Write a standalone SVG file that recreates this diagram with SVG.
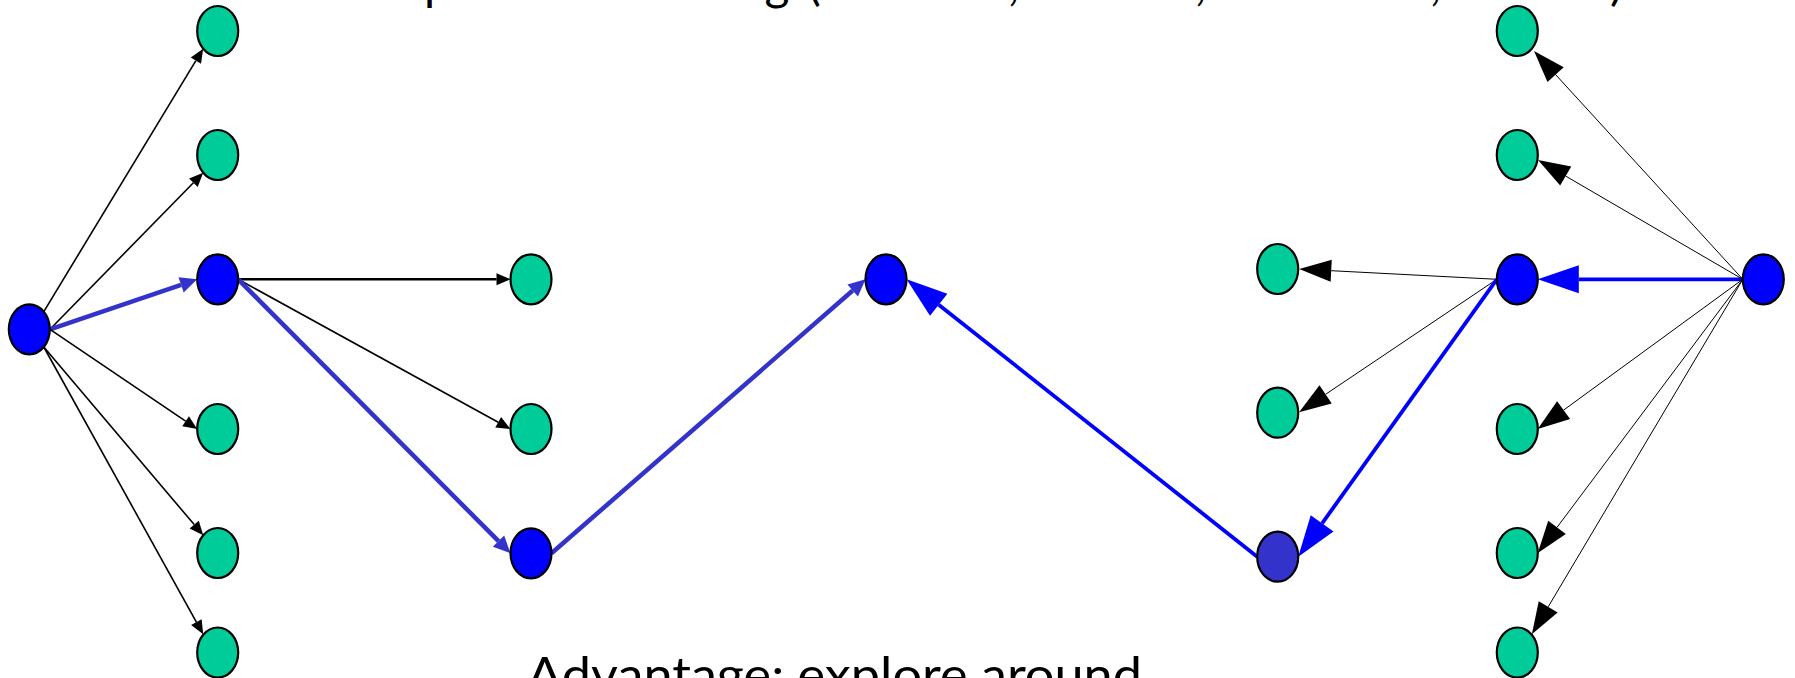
<svg xmlns="http://www.w3.org/2000/svg" width="1795" height="678" viewBox="0 0 1795 678">
<style>
.txt{font-family:Lato,"Noto Sans","Liberation Sans",sans-serif;font-size:48px;fill:#000}
.g{fill:#00CC99;stroke:#000;stroke-width:2.2}
.b{fill:#0000FF;stroke:#000;stroke-width:2.2}
.d{fill:#3333CC;stroke:#000;stroke-width:2.2}
.ks{stroke:#000;stroke-width:1.6;fill:none;marker-end:url(#mKS)}
.kl{stroke:#000;stroke-width:1;fill:none;marker-end:url(#mKL)}
.bs{stroke:#3333CC;stroke-width:4.5;fill:none;marker-end:url(#mBS)}
.bl{stroke:#0000FF;stroke-width:3.8;fill:none;marker-end:url(#mBL)}
</style>
<defs>
<marker id="mKS" markerUnits="userSpaceOnUse" markerWidth="16" markerHeight="14" refX="0" refY="6" orient="auto" overflow="visible"><path d="M0,0 L14,6 L0,12 Z" fill="#000"/></marker>
<marker id="mBS" markerUnits="userSpaceOnUse" markerWidth="18" markerHeight="18" refX="0" refY="8" orient="auto" overflow="visible"><path d="M0,0 L17,8 L0,16 Z" fill="#3333CC"/></marker>
<marker id="mKL" markerUnits="userSpaceOnUse" markerWidth="34" markerHeight="24" refX="0" refY="11" orient="auto" overflow="visible"><path d="M0,0 L32,11 L0,22 Z" fill="#000"/></marker>
<marker id="mBL" markerUnits="userSpaceOnUse" markerWidth="42" markerHeight="30" refX="0" refY="14" orient="auto" overflow="visible"><path d="M0,0 L41,14 L0,28 Z" fill="#0000FF"/></marker>
</defs>
<text class="txt" y="0"><tspan x="150">Both sides</tspan><tspan x="375">expand</tspan><tspan x="590">searching</tspan><tspan x="808">(</tspan><tspan x="828">forward</tspan><tspan x="1008">,</tspan><tspan x="1035">reverse</tspan><tspan x="1195">,</tspan><tspan x="1250">frontier</tspan><tspan x="1430">,</tspan><tspan x="1455">middle</tspan><tspan x="1610">)</tspan></text>
<g id="connectors">
<line class="ks" x1="43.8" y1="311.6" x2="195.9" y2="60.7"/>
<line class="ks" x1="50" y1="329.3" x2="193.4" y2="182.7"/>
<line class="bs" x1="50" y1="329.3" x2="181.1" y2="284.8"/>
<line class="ks" x1="50" y1="329.3" x2="185.6" y2="421.2"/>
<line class="ks" x1="43.8" y1="347" x2="194.2" y2="524.6"/>
<line class="ks" x1="43.8" y1="347" x2="196.4" y2="622.1"/>
<line class="ks" x1="238.2" y1="279.3" x2="496.5" y2="279.3" style="stroke-width:2.5"/>
<line class="ks" x1="238.2" y1="279.3" x2="498.2" y2="422.3"/>
<line class="bs" x1="238.2" y1="279.3" x2="498.5" y2="541.2"/>
<line class="bs" x1="551.5" y1="553.3" x2="852.7" y2="290.5"/>
<line class="bl" x1="1742.8" y1="279.3" x2="1578.8" y2="279.3"/>
<line class="kl" x1="1742.8" y1="279.3" x2="1555.6" y2="74.6"/>
<line class="kl" x1="1742.8" y1="279.3" x2="1565.7" y2="176.1"/>
<line class="kl" x1="1742.8" y1="279.3" x2="1563.6" y2="410.1"/>
<line class="kl" x1="1742.8" y1="279.3" x2="1557" y2="527.4"/>
<line class="kl" x1="1742.8" y1="279.3" x2="1548.2" y2="606.8"/>
<line class="kl" x1="1496.8" y1="279.3" x2="1331.2" y2="270.7"/>
<line class="kl" x1="1496.8" y1="279.3" x2="1325.6" y2="394.3"/>
<line class="bl" x1="1496.8" y1="279.3" x2="1322.1" y2="523.4"/>
<line class="bl" x1="1257.2" y1="556.7" x2="938.7" y2="304.7"/>
</g>
<g id="start"><ellipse class="b" cx="29.3" cy="329.3" rx="20.5" ry="25"/></g>
<g id="l1"><ellipse class="g" cx="217.7" cy="31" rx="20.5" ry="25"/></g>
<g id="l2"><ellipse class="g" cx="217.7" cy="155" rx="20.5" ry="25"/></g>
<g id="l3"><ellipse class="b" cx="217.7" cy="279.3" rx="20.5" ry="25"/></g>
<g id="l4"><ellipse class="g" cx="217.7" cy="429" rx="20.5" ry="25"/></g>
<g id="l5"><ellipse class="g" cx="217.7" cy="553" rx="20.5" ry="25"/></g>
<g id="l6"><ellipse class="g" cx="217.7" cy="652.5" rx="20.5" ry="25"/></g>
<g id="m1"><ellipse class="g" cx="531" cy="279.3" rx="20.5" ry="25"/></g>
<g id="m2"><ellipse class="g" cx="531" cy="429" rx="20.5" ry="25"/></g>
<g id="m3"><ellipse class="b" cx="531" cy="553.3" rx="20.5" ry="25"/></g>
<g id="meet"><ellipse class="b" cx="886" cy="279.3" rx="20.5" ry="25"/></g>
<g id="p1"><ellipse class="g" cx="1277.7" cy="269" rx="20.5" ry="25"/></g>
<g id="p2"><ellipse class="g" cx="1277.7" cy="412.7" rx="20.5" ry="25"/></g>
<g id="p3"><ellipse class="d" cx="1277.7" cy="556.7" rx="20.5" ry="25"/></g>
<g id="r1"><ellipse class="g" cx="1517.3" cy="31" rx="20.5" ry="25"/></g>
<g id="r2"><ellipse class="g" cx="1517.3" cy="155" rx="20.5" ry="25"/></g>
<g id="r3"><ellipse class="b" cx="1517.3" cy="279.3" rx="20.5" ry="25"/></g>
<g id="r4"><ellipse class="g" cx="1517.3" cy="429" rx="20.5" ry="25"/></g>
<g id="r5"><ellipse class="g" cx="1517.3" cy="553" rx="20.5" ry="25"/></g>
<g id="r6"><ellipse class="g" cx="1517.3" cy="652.5" rx="20.5" ry="25"/></g>
<g id="goal"><ellipse class="b" cx="1763.3" cy="279.3" rx="20.5" ry="25"/></g>
<text class="txt" x="527" y="692" textLength="615" lengthAdjust="spacingAndGlyphs">Advantage: explore around</text>
</svg>
